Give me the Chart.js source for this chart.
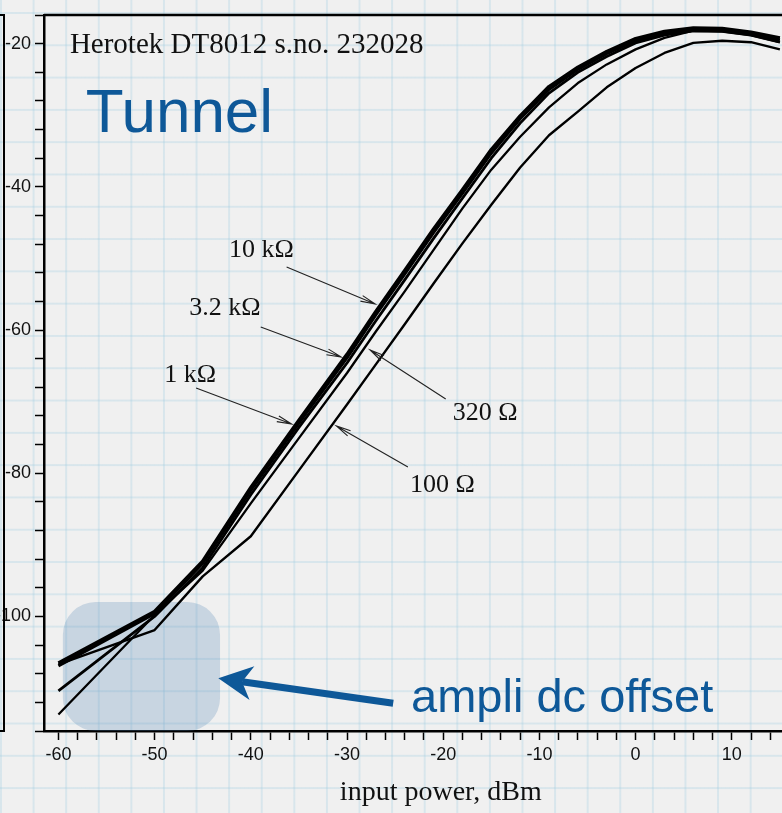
<!DOCTYPE html>
<html>
<head>
<meta charset="utf-8">
<script src="https://cdn.jsdelivr.net/npm/chart.js@4.4.1/dist/chart.umd.min.js"></script>
<style>
  html, body { margin: 0; padding: 0; overflow: hidden; }
  body {
    width: 782px; height: 813px;
    background-color: #f0f0f0;
    background-image:
      linear-gradient(to right, rgba(160, 205, 225, 0.3) 2px, transparent 2px),
      linear-gradient(to bottom, rgba(160, 205, 225, 0.3) 2px, transparent 2px);
    background-size: 32.6px 32.3px;
    background-position: 0 12px;
  }
  #wrap { position: absolute; left: 0; top: 0; width: 842px; height: 813px; }
</style>
</head>
<body>
<div id="wrap"><canvas id="chart" width="842" height="813"></canvas></div>
<script>
// input power (dBm) and detector output (dB) per load resistance
const inputPower = [-60, -50, -45, -40, -35, -30, -27, -24, -21, -18, -15, -12, -9, -6, -3, 0, 3, 6, 9, 12, 15];
const out10k  = [-106.5, -99.3, -92.3, -82.0, -72.6, -63.4, -57.4, -51.7, -45.9, -40.4, -34.8, -30.1, -26.0, -23.3, -21.1, -19.3, -18.3, -17.8, -17.9, -18.4, -19.2];
const out3k2  = [-106.9, -99.6, -92.6, -82.4, -73.0, -63.9, -57.9, -52.2, -46.4, -40.9, -35.3, -30.5, -26.4, -23.6, -21.4, -19.6, -18.6, -18.0, -18.1, -18.6, -19.5];
const out1k   = [-110.4, -100.0, -93.2, -83.0, -73.6, -64.6, -58.7, -53.0, -47.2, -41.6, -36.0, -31.1, -26.9, -24.0, -21.8, -19.9, -18.8, -18.2, -18.3, -18.8, -19.8];
const out320  = [-113.7, -99.8, -93.6, -84.2, -75.1, -66.0, -60.2, -54.6, -48.8, -43.0, -37.6, -33.0, -28.9, -25.5, -22.9, -20.8, -19.2, -18.2, -18.3, -18.8, -19.8];
const out100  = [-106.7, -101.9, -94.4, -88.8, -79.6, -70.4, -64.8, -59.2, -53.5, -47.9, -42.5, -37.3, -32.8, -29.5, -26.1, -23.4, -21.3, -19.9, -19.6, -19.8, -20.8];

const xLabelled = [-60, -50, -40, -30, -20, -10, 0, 10, 20];
const yLabelled = [-20, -40, -60, -80, -100];

// notes, in data units
const curveNotes = [
    { label: '10 kΩ',  at: [-42.27, -49.8],  from: [-36.28, -51.2],  to: [-27.08, -56.37] },
    { label: '3.2 kΩ', at: [-46.4, -57.9],   from: [-38.97, -59.58], to: [-30.6, -63.77] },
    { label: '1 kΩ',   at: [-49.0, -67.26],  from: [-45.69, -68.1],  to: [-35.76, -73.13] },
    { label: '320 Ω',  at: [-19.0, -72.56],  from: [-19.74, -69.63], to: [-27.6, -62.79] },
    { label: '100 Ω',  at: [-23.46, -82.62], from: [-23.67, -79.13], to: [-31.11, -73.4] }
];
const offsetBox = { x0: -59.54, x1: -43.2, y0: -97.98, y1: -116 };
const offsetArrow = { tail: [-25.2, -112.13], tip: [-43.38, -108.64] };

const BLUE = '#0e5898';
const SERIF = '"Liberation Serif", "Times New Roman", serif';
const SANS = '"Liberation Sans", Arial, Helvetica, sans-serif';

function series(label, values, width) {
    return {
        label: label,
        data: inputPower.map((x, i) => ({ x: x, y: values[i] })),
        borderColor: '#000',
        borderWidth: width,
        pointRadius: 0,
        tension: 0,
        borderJoinStyle: 'round',
        fill: false
    };
}

function thinArrow(ctx, x1, y1, x2, y2) {
    const a = Math.atan2(y2 - y1, x2 - x1);
    const len = 15, spread = 0.2;
    ctx.beginPath();
    ctx.moveTo(x1, y1);
    ctx.lineTo(x2, y2);
    ctx.moveTo(x2 - len * Math.cos(a - spread), y2 - len * Math.sin(a - spread));
    ctx.lineTo(x2, y2);
    ctx.lineTo(x2 - len * Math.cos(a + spread), y2 - len * Math.sin(a + spread));
    ctx.stroke();
}

const paperDecor = {
    id: 'paperDecor',
    beforeDatasetsDraw(chart) {
        const { ctx, scales: { x, y } } = chart;
        const l = x.getPixelForValue(offsetBox.x0), r = x.getPixelForValue(offsetBox.x1);
        const t = y.getPixelForValue(offsetBox.y0), b = y.getPixelForValue(offsetBox.y1);
        const rad = 33;
        ctx.save();
        ctx.fillStyle = 'rgba(80, 130, 180, 0.25)';
        ctx.beginPath();
        ctx.moveTo(l + rad, t);
        ctx.arcTo(r, t, r, b, rad);
        ctx.arcTo(r, b, l, b, rad);
        ctx.arcTo(l, b, l, t, rad);
        ctx.arcTo(l, t, r, t, rad);
        ctx.closePath();
        ctx.fill();
        ctx.restore();
    },
    afterDraw(chart) {
        const { ctx, chartArea, scales: { x, y } } = chart;
        const px = p => [x.getPixelForValue(p[0]), y.getPixelForValue(p[1])];
        ctx.save();

        // frame: top line and the edge of the neighbouring panel
        ctx.strokeStyle = '#000';
        ctx.lineWidth = 2.5;
        ctx.beginPath();
        ctx.moveTo(chartArea.left, chartArea.top);
        ctx.lineTo(chartArea.right, chartArea.top);
        ctx.stroke();
        ctx.lineWidth = 2;
        ctx.beginPath();
        ctx.moveTo(0, chartArea.top);
        ctx.lineTo(4, chartArea.top);
        ctx.lineTo(4, chartArea.bottom);
        ctx.lineTo(0, chartArea.bottom);
        ctx.stroke();

        // curve labels with arrows
        ctx.fillStyle = '#111';
        ctx.strokeStyle = '#222';
        ctx.lineWidth = 1.1;
        ctx.font = '26px ' + SERIF;
        ctx.textBaseline = 'alphabetic';
        curveNotes.forEach(n => {
            const [tx, ty] = px(n.at);
            ctx.fillText(n.label, tx, ty);
            const [x1, y1] = px(n.from);
            const [x2, y2] = px(n.to);
            thinArrow(ctx, x1, y1, x2, y2);
        });

        // header texts
        const [hx, hy] = px([-58.81, -21.31]);
        ctx.font = '29px ' + SERIF;
        ctx.fillText('Herotek DT8012 s.no. 232028', hx, hy);
        ctx.fillStyle = BLUE;
        const [tx, ty] = px([-57.15, -32.34]);
        ctx.font = '62px ' + SANS;
        ctx.fillText('Tunnel', tx, ty);
        const [ax, ay] = px([-23.34, -113.35]);
        ctx.font = '47px ' + SANS;
        ctx.fillText('ampli dc offset', ax, ay);

        // big arrow towards the offset box
        const [x0, y0] = px(offsetArrow.tail);
        const [x1, y1] = px(offsetArrow.tip);
        const d = Math.hypot(x1 - x0, y1 - y0);
        const ux = (x1 - x0) / d, uy = (y1 - y0) / d;
        const nx = -uy, ny = ux;
        const notchX = x1 - 24 * ux, notchY = y1 - 24 * uy;
        ctx.strokeStyle = BLUE;
        ctx.lineWidth = 7;
        ctx.beginPath();
        ctx.moveTo(x0, y0);
        ctx.lineTo(notchX, notchY);
        ctx.stroke();
        ctx.beginPath();
        ctx.moveTo(x1, y1);
        ctx.lineTo(x1 - 34 * ux + 17 * nx, y1 - 34 * uy + 17 * ny);
        ctx.lineTo(notchX, notchY);
        ctx.lineTo(x1 - 34 * ux - 17 * nx, y1 - 34 * uy - 17 * ny);
        ctx.closePath();
        ctx.fill();

        ctx.restore();
    }
};

const ctx = document.getElementById('chart').getContext('2d');
new Chart(ctx, {
    type: 'line',
    data: {
        datasets: [
            series('100 Ω', out100, 2.4),
            series('320 Ω', out320, 2.3),
            series('1 kΩ', out1k, 2.8),
            series('3.2 kΩ', out3k2, 3),
            series('10 kΩ', out10k, 3.5)
        ]
    },
    options: {
        responsive: false,
        animation: false,
        layout: { padding: { top: 15, left: 0, right: 0, bottom: 0 } },
        plugins: { legend: { display: false }, tooltip: { enabled: false } },
        scales: {
            x: {
                type: 'linear',
                min: -61.5,
                max: 21,
                afterFit: s => { s.height = 82; },
                border: { display: true, color: '#000', width: 2.5 },
                grid: { drawOnChartArea: false, drawTicks: true, tickLength: 9, tickColor: '#000', tickWidth: 1.5 },
                ticks: {
                    stepSize: 2,
                    includeBounds: false,
                    autoSkip: false,
                    maxRotation: 0,
                    padding: 4,
                    color: '#111',
                    font: { family: SANS, size: 18 },
                    callback: v => (xLabelled.includes(v) ? String(v) : '')
                },
                title: {
                    display: true,
                    text: 'input power, dBm',
                    color: '#111',
                    font: { family: SERIF, size: 28 },
                    padding: { top: 0, bottom: 4 }
                }
            },
            y: {
                min: -116,
                max: -16,
                afterFit: s => { s.width = 44; },
                border: { display: true, color: '#000', width: 2.5 },
                grid: { drawOnChartArea: false, drawTicks: true, tickLength: 9, tickColor: '#000', tickWidth: 1.5 },
                ticks: {
                    stepSize: 4,
                    autoSkip: false,
                    padding: 4,
                    color: '#111',
                    font: { family: SANS, size: 18 },
                    callback: v => (yLabelled.includes(v) ? String(v) : '')
                }
            }
        }
    },
    plugins: [paperDecor]
});
</script>
</body>
</html>
